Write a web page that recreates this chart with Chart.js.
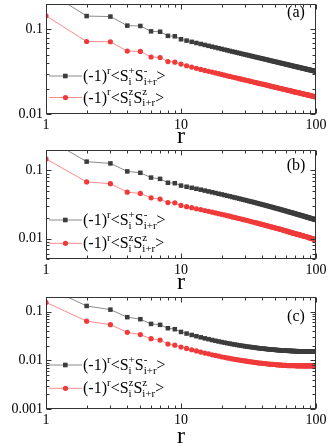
<!DOCTYPE html>
<html>
<head>
<meta charset="utf-8">
<script src="https://cdn.jsdelivr.net/npm/chart.js@4"></script>
<style>
  html, body { margin: 0; padding: 0; background: #fff; }
  #wrap { position: relative; width: 332px; height: 446px; }
  #wrap canvas { position: absolute; left: 0; }
</style>
</head>
<body>
<div id="wrap">
  <canvas id="panelA" width="332" height="146" style="top:0"></canvas>
  <canvas id="panelB" width="332" height="146" style="top:146px"></canvas>
  <canvas id="panelC" width="332" height="154" style="top:292px"></canvas>
</div>
<script>
// distance r
const rValues = [1, 2, 3, 4, 5, 6, 7, 8, 9,
  10, 11, 12, 13, 14, 15, 16, 17, 18, 19,
  20, 21, 22, 23, 24, 25, 26, 27, 28, 29,
  30, 31, 32, 33, 34, 35, 36, 37, 38, 39,
  40, 41, 42, 43, 44, 45, 46, 47, 48, 49,
  50, 51, 52, 53, 54, 55, 56, 57, 58, 59,
  60, 61, 62, 63, 64, 65, 66, 67, 68, 69,
  70, 71, 72, 73, 74, 75, 76, 77, 78, 79,
  80, 81, 82, 83, 84, 85, 86, 87, 88, 89,
  90, 91, 92, 93, 94, 95, 96, 97, 98, 99,
  100];

// panel (a)
const pmA = [0.29, 0.144, 0.142, 0.111, 0.110, 0.095, 0.094, 0.084, 0.083,
  0.0765, 0.0738, 0.0714, 0.0692, 0.0673, 0.0656, 0.0640, 0.0625, 0.0612, 0.0600,
  0.0588, 0.0577, 0.0567, 0.0557, 0.0548, 0.0540, 0.0532, 0.0525, 0.0517, 0.0510,
  0.0504, 0.0498, 0.0492, 0.0486, 0.0480, 0.0475, 0.0470, 0.0465, 0.0461, 0.0456,
  0.0452, 0.0448, 0.0444, 0.0440, 0.0436, 0.0432, 0.0428, 0.0425, 0.0421, 0.0418,
  0.0415, 0.0412, 0.0409, 0.0406, 0.0403, 0.0400, 0.0398, 0.0395, 0.0392, 0.0390,
  0.0387, 0.0385, 0.0383, 0.0380, 0.0378, 0.0376, 0.0374, 0.0371, 0.0369, 0.0367,
  0.0365, 0.0363, 0.0361, 0.0359, 0.0358, 0.0356, 0.0354, 0.0352, 0.0350, 0.0349,
  0.0347, 0.0345, 0.0344, 0.0342, 0.0341, 0.0339, 0.0338, 0.0336, 0.0335, 0.0333,
  0.0332, 0.0331, 0.0329, 0.0328, 0.0327, 0.0325, 0.0324, 0.0323, 0.0321, 0.0320,
  0.0319];
const zzA = [0.145, 0.072, 0.0715, 0.0555, 0.055, 0.0472, 0.0466, 0.0417, 0.041,
  0.0389, 0.0372, 0.0359, 0.0347, 0.0337, 0.0328, 0.0320, 0.0313, 0.0306, 0.0300,
  0.0294, 0.0288, 0.0283, 0.0278, 0.0274, 0.0270, 0.0266, 0.0262, 0.0258, 0.0255,
  0.0252, 0.0249, 0.0246, 0.0243, 0.0240, 0.0237, 0.0235, 0.0232, 0.0230, 0.0228,
  0.0226, 0.0224, 0.0222, 0.0220, 0.0218, 0.0216, 0.0214, 0.0212, 0.0210, 0.0209,
  0.0207, 0.0206, 0.0204, 0.0203, 0.0201, 0.0200, 0.0199, 0.0197, 0.0196, 0.0195,
  0.0193, 0.0192, 0.0191, 0.0190, 0.0189, 0.0188, 0.0187, 0.0185, 0.0184, 0.0183,
  0.0182, 0.0181, 0.0180, 0.0179, 0.0179, 0.0178, 0.0177, 0.0176, 0.0175, 0.0174,
  0.0173, 0.0172, 0.0172, 0.0171, 0.0170, 0.0169, 0.0169, 0.0168, 0.0167, 0.0166,
  0.0166, 0.0165, 0.0164, 0.0164, 0.0163, 0.0162, 0.0162, 0.0161, 0.0160, 0.0160,
  0.0159];

// panel (b)
const pmB = [0.30, 0.135, 0.127, 0.097, 0.0925, 0.0786, 0.0753, 0.066, 0.065,
  0.0600, 0.0577, 0.0557, 0.0538, 0.0522, 0.0506, 0.0492, 0.0479, 0.0467, 0.0455,
  0.0445, 0.0435, 0.0425, 0.0417, 0.0408, 0.0400, 0.0393, 0.0386, 0.0379, 0.0372,
  0.0366, 0.0360, 0.0354, 0.0349, 0.0344, 0.0339, 0.0334, 0.0329, 0.0324, 0.0320,
  0.0316, 0.0312, 0.0308, 0.0304, 0.0300, 0.0297, 0.0293, 0.0290, 0.0287, 0.0283,
  0.0280, 0.0277, 0.0274, 0.0272, 0.0269, 0.0266, 0.0263, 0.0261, 0.0258, 0.0256,
  0.0253, 0.0251, 0.0249, 0.0246, 0.0244, 0.0242, 0.0240, 0.0238, 0.0236, 0.0234,
  0.0232, 0.0230, 0.0228, 0.0226, 0.0225, 0.0223, 0.0221, 0.0220, 0.0218, 0.0216,
  0.0215, 0.0213, 0.0212, 0.0210, 0.0209, 0.0207, 0.0206, 0.0204, 0.0203, 0.0202,
  0.0200, 0.0199, 0.0198, 0.0196, 0.0195, 0.0194, 0.0193, 0.0191, 0.0190, 0.0189,
  0.0188];
const zzB = [0.148, 0.068, 0.064, 0.048, 0.046, 0.0397, 0.038, 0.0337, 0.0335,
  0.0306, 0.0294, 0.0284, 0.0274, 0.0266, 0.0258, 0.0251, 0.0244, 0.0238, 0.0232,
  0.0227, 0.0222, 0.0217, 0.0213, 0.0208, 0.0204, 0.0200, 0.0197, 0.0193, 0.0190,
  0.0187, 0.0184, 0.0181, 0.0178, 0.0175, 0.0173, 0.0170, 0.0168, 0.0165, 0.0163,
  0.0161, 0.0159, 0.0157, 0.0155, 0.0153, 0.0151, 0.0149, 0.0148, 0.0146, 0.0144,
  0.0143, 0.0141, 0.0140, 0.0139, 0.0137, 0.0136, 0.0134, 0.0133, 0.0132, 0.0131,
  0.0129, 0.0128, 0.0127, 0.0125, 0.0124, 0.0123, 0.0122, 0.0121, 0.0120, 0.0119,
  0.0118, 0.0117, 0.0116, 0.0115, 0.0115, 0.0114, 0.0113, 0.0112, 0.0111, 0.0110,
  0.0110, 0.0109, 0.0108, 0.0107, 0.0107, 0.0106, 0.0105, 0.0104, 0.0104, 0.0103,
  0.0102, 0.0101, 0.0101, 0.0100, 0.0099, 0.0099, 0.0098, 0.0097, 0.0097, 0.0096,
  0.0096];

// panel (c)
const pmC = [0.32, 0.131, 0.110, 0.077, 0.070, 0.056, 0.0536, 0.0457, 0.0436,
  0.0383, 0.0355, 0.0332, 0.0313, 0.0297, 0.0283, 0.0272, 0.0261, 0.0252, 0.0244,
  0.0237, 0.0231, 0.0225, 0.0220, 0.0215, 0.0211, 0.0207, 0.0203, 0.0200, 0.0197,
  0.0194, 0.0191, 0.0189, 0.0187, 0.0185, 0.0183, 0.0181, 0.0179, 0.0177, 0.0176,
  0.0174, 0.0173, 0.0172, 0.0171, 0.0169, 0.0168, 0.0167, 0.0166, 0.0166, 0.0165,
  0.0164, 0.0163, 0.0162, 0.0162, 0.0161, 0.0160, 0.0160, 0.0159, 0.0159, 0.0158,
  0.0158, 0.0157, 0.0157, 0.0157, 0.0156, 0.0156, 0.0156, 0.0155, 0.0155, 0.0155,
  0.0154, 0.0154, 0.0154, 0.0154, 0.0153, 0.0153, 0.0153, 0.0153, 0.0153, 0.0153,
  0.0152, 0.0152, 0.0152, 0.0152, 0.0152, 0.0152, 0.0152, 0.0151, 0.0151, 0.0151,
  0.0151, 0.0151, 0.0151, 0.0151, 0.0151, 0.0151, 0.0151, 0.0151, 0.0151, 0.0151,
  0.0151];
const zzC = [0.155, 0.0638, 0.054, 0.0376, 0.0338, 0.0278, 0.0261, 0.0216, 0.0205,
  0.0188, 0.0176, 0.0165, 0.0156, 0.0148, 0.0141, 0.0136, 0.0130, 0.0126, 0.0122,
  0.0118, 0.0115, 0.0112, 0.0110, 0.0107, 0.0105, 0.0103, 0.0101, 0.0100, 0.0098,
  0.0097, 0.0095, 0.0094, 0.0093, 0.0092, 0.0091, 0.0090, 0.0089, 0.0088, 0.0088,
  0.0087, 0.0086, 0.0086, 0.0085, 0.0084, 0.0084, 0.0083, 0.0083, 0.0083, 0.0082,
  0.0082, 0.0081, 0.0081, 0.0081, 0.0080, 0.0080, 0.0080, 0.0079, 0.0079, 0.0079,
  0.0079, 0.0078, 0.0078, 0.0078, 0.0078, 0.0078, 0.0078, 0.0078, 0.0078, 0.0078,
  0.0078, 0.0077, 0.0077, 0.0077, 0.0077, 0.0077, 0.0077, 0.0077, 0.0077, 0.0077,
  0.0077, 0.0077, 0.0077, 0.0077, 0.0077, 0.0077, 0.0077, 0.0077, 0.0077, 0.0077,
  0.0077, 0.0077, 0.0077, 0.0077, 0.0077, 0.0077, 0.0077, 0.0077, 0.0077, 0.0077,
  0.0077];

const xTicks = [1, 10, 100];
const yTicksA = [0.01, 0.1];
const yTicksB = [0.01, 0.1];
const yTicksC = [0.001, 0.01, 0.1];
const panelLabels = ["(a)", "(b)", "(c)"];
const xTitle = "r";

// legend text, pieces: plain text, or superscript/subscript pair
const legendPM = [{ t: "(-1)" }, { sup: "r" }, { t: "<S" }, { sup: "+", sub: "i" }, { t: "S" }, { sup: "-", sub: "i+r" }, { t: ">" }];
const legendZZ = [{ t: "(-1)" }, { sup: "r" }, { t: "<S" }, { sup: "z", sub: "i" }, { t: "S" }, { sup: "z", sub: "i+r" }, { t: ">" }];

const SERIF = '"Liberation Serif", "Times New Roman", serif';
const BLACK_LINE = "#8a8a8a", BLACK_MARK = "#3c3c3c";
const RED_LINE = "#ff8a8a", RED_MARK = "#f03a3a";

function drawRich(ctx, x, y, parts) {
  const base = y + 5;
  ctx.textAlign = "left";
  ctx.textBaseline = "alphabetic";
  ctx.fillStyle = "#000";
  parts.forEach(p => {
    if (p.t) {
      ctx.font = "16px " + SERIF;
      ctx.fillText(p.t, x, base);
      x += ctx.measureText(p.t).width;
    } else {
      ctx.font = "11px " + SERIF;
      let w = 0;
      if (p.sup) { ctx.fillText(p.sup, x, base - 7.5); w = ctx.measureText(p.sup).width; }
      if (p.sub) { ctx.fillText(p.sub, x, base + 3.5); w = Math.max(w, ctx.measureText(p.sub).width); }
      x += w;
    }
  });
}

// frame, inward ticks on all four sides, legend and panel label
const decorPlugin = {
  id: "decor",
  afterDatasetsDraw(chart) {
    const { ctx, chartArea: a, scales: { x, y } } = chart;
    const cfg = chart.options.plugins.decor;
    ctx.save();
    ctx.strokeStyle = "#333";
    ctx.lineWidth = 1;
    const L = Math.round(a.left) + 0.5, R = Math.round(a.right) - 0.5;
    const T = Math.round(a.top) + 0.5, B = Math.round(a.bottom) - 0.5;
    ctx.strokeRect(L, T, R - L, B - T);

    ctx.beginPath();
    for (const [scale, horiz] of [[x, true], [y, false]]) {
      const lo = Math.floor(Math.log10(scale.min) + 1e-9);
      const hi = Math.ceil(Math.log10(scale.max) - 1e-9);
      for (let d = lo; d <= hi; d++) {
        for (let k = 1; k <= 9; k++) {
          const v = k * Math.pow(10, d);
          if (v < scale.min * 0.999 || v > scale.max * 1.001) continue;
          const p = Math.round(scale.getPixelForValue(v)) + 0.5;
          const len = k === 1 ? 5 : 3;
          if (horiz) {
            ctx.moveTo(p, B); ctx.lineTo(p, B - len);
            ctx.moveTo(p, T); ctx.lineTo(p, T + len);
          } else {
            ctx.moveTo(L, p); ctx.lineTo(L + len, p);
            ctx.moveTo(R, p); ctx.lineTo(R - len, p);
          }
        }
      }
    }
    ctx.stroke();

    // legend
    cfg.legend.forEach(e => {
      ctx.strokeStyle = e.line;
      ctx.beginPath();
      ctx.moveTo(49, e.y); ctx.lineTo(82, e.y);
      ctx.stroke();
      ctx.fillStyle = e.mark;
      if (e.square) {
        ctx.fillRect(63, e.y - 2.3, 4.6, 4.6);
      } else {
        ctx.beginPath();
        ctx.arc(65.5, e.y, 2.6, 0, Math.PI * 2);
        ctx.fill();
      }
      drawRich(ctx, 83, e.y, e.text);
    });

    ctx.fillStyle = "#000";
    ctx.font = "16px " + SERIF;
    ctx.textAlign = "center";
    ctx.textBaseline = "middle";
    ctx.fillText(cfg.label, 296, cfg.labelY);
    ctx.restore();
  }
};

function makePanel(id, pm, zz, yMin, yMax, yTicks, label, layout) {
  new Chart(document.getElementById(id), {
    type: "line",
    data: {
      datasets: [
        {
          data: rValues.map((r, i) => ({ x: r, y: pm[i] })),
          borderColor: BLACK_LINE,
          borderWidth: 1,
          pointStyle: "rect",
          pointRadius: 3.2,
          pointBackgroundColor: BLACK_MARK,
          pointBorderWidth: 0
        },
        {
          data: rValues.map((r, i) => ({ x: r, y: zz[i] })),
          borderColor: RED_LINE,
          borderWidth: 1,
          pointStyle: "circle",
          pointRadius: 2.6,
          pointBackgroundColor: RED_MARK,
          pointBorderWidth: 0
        }
      ]
    },
    options: {
      responsive: false,
      animation: false,
      layout: { padding: { top: layout.top, right: 16, left: 0, bottom: 0 } },
      plugins: {
        legend: { display: false },
        tooltip: { enabled: false },
        decor: {
          label: label,
          labelY: layout.labelY,
          legend: [
            { y: layout.leg[0], line: BLACK_LINE, mark: BLACK_MARK, square: true, text: legendPM },
            { y: layout.leg[1], line: RED_LINE, mark: RED_MARK, square: false, text: legendZZ }
          ]
        }
      },
      scales: {
        x: {
          type: "logarithmic",
          position: "bottom",
          min: 1,
          max: 100,
          grid: { display: false, drawTicks: false },
          border: { display: false },
          afterBuildTicks: s => { s.ticks = xTicks.map(v => ({ value: v })); },
          afterFit: s => { s.height = layout.xh; s.paddingLeft = 0; s.paddingRight = 0; },
          ticks: {
            autoSkip: false,
            maxRotation: 0,
            padding: 3,
            color: "#000",
            font: { family: SERIF, size: 14 },
            callback: v => String(v)
          },
          title: {
            display: true,
            text: xTitle,
            color: "#000",
            font: { family: SERIF, size: 24, lineHeight: 0.8 },
            padding: { top: 0, bottom: layout.tb }
          }
        },
        y: {
          type: "logarithmic",
          min: yMin,
          max: yMax,
          grid: { display: false, drawTicks: false },
          border: { display: false },
          afterBuildTicks: s => { s.ticks = yTicks.map(v => ({ value: v })); },
          afterFit: s => { s.width = 46; s.paddingTop = 0; s.paddingBottom = 0; },
          ticks: {
            autoSkip: false,
            padding: 3,
            color: "#000",
            font: { family: SERIF, size: 14 },
            callback: v => String(v)
          }
        }
      }
    },
    plugins: [decorPlugin]
  });
}

makePanel("panelA", pmA, zzA, 0.01, 0.2, yTicksA, panelLabels[0],
  { top: 2, xh: 32, tb: 0, labelY: 13, leg: [76, 97.5] });
makePanel("panelB", pmB, zzB, 0.005, 0.2, yTicksB, panelLabels[1],
  { top: 2, xh: 33, tb: 0, labelY: 20, leg: [74, 97.3] });
makePanel("panelC", pmC, zzC, 0.001, 0.2, yTicksC, panelLabels[2],
  { top: 5, xh: 37, tb: 0, labelY: 24.7, leg: [73, 96.3] });
</script>
</body>
</html>
